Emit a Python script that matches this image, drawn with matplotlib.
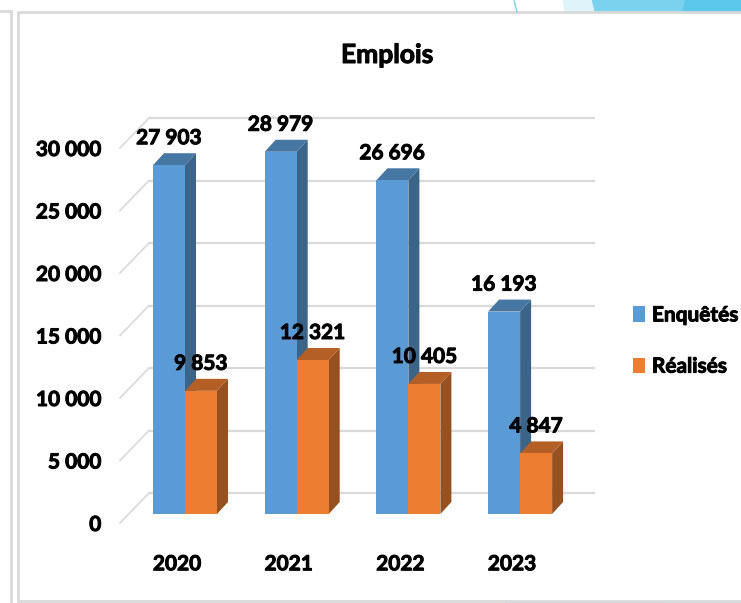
import matplotlib
matplotlib.use("Agg")
import matplotlib.pyplot as plt
import matplotlib.patheffects as pe
from matplotlib.patches import Polygon, Rectangle
from matplotlib.transforms import Affine2D
import numpy as np

W, H = 741, 603

years = ["2020", "2021", "2022", "2023"]
enquetes = [27903, 28979, 26696, 16193]
realises = [9853, 12321, 10405, 4847]
enquetes_labels = ["27 903", "28 979", "26 696", "16 193"]
realises_labels = ["9 853", "12 321", "10 405", "4 847"]
y_ticks = [0, 5000, 10000, 15000, 20000, 25000, 30000]
y_labels = ["0", "5 000", "10 000", "15 000", "20 000", "25 000", "30 000"]

plt.rcParams["font.family"] = ["Lato", "DejaVu Sans"]
plt.rcParams["font.weight"] = "bold"

BLUE, BLUE_TOP, BLUE_SIDE = "#5b9bd5", "#4676a2", "#3b6488"
ORANGE, ORANGE_TOP, ORANGE_SIDE = "#ed7d31", "#b45f25", "#97501f"
GRID = "#d9d9d9"
FS = 15
# thickens the glyphs, the reference text is very heavy
HEAVY = [pe.withStroke(linewidth=0.7, foreground="black")]

fig = plt.figure(figsize=(W / 100, H / 100), dpi=100)

# page background, pixel coordinates
bg = fig.add_axes([0, 0, 1, 1])
bg.set_xlim(0, W)
bg.set_ylim(H, 0)
bg.axis("off")
bg.add_patch(Polygon([[563, 0], [741, 0], [741, 12], [565, 12]], color="#dff3fa"))
bg.add_patch(Polygon([[592, 0], [741, 0], [741, 12], [595, 12]], color="#7ad2ef"))
bg.add_patch(Polygon([[685, 0], [741, 0], [741, 12], [682, 12]], color="#5cc8ec"))
bg.plot([514, 517], [0, 12], color="#7ad2ef", lw=1)
bg.add_patch(Rectangle((505, 600), 236, 3, color="#bfe8f6", lw=0))
bg.add_patch(Rectangle((664, 600), 77, 3, color="#7ad2ef", lw=0))
bg.add_patch(Rectangle((18, 12), 740, 589, facecolor="white", edgecolor=GRID, lw=2))
bg.plot([0, 11, 11], [11, 11, 603], color=GRID, lw=2)

# axes plane goes through the front of the bars
left, right, base, top = 129, 575, 514, 139
ax = fig.add_axes([left / W, 1 - base / H, (right - left) / W, (base - top) / H])
ax.set_ylim(0, 30000)
ax.set_xlim((left - 185) / 111.7, (right - 185) / 111.7)
ax.patch.set_alpha(0)
for s in ax.spines.values():
    s.set_visible(False)

x = np.arange(len(years))
w = 0.2865
DX, DY = 11, 12

back = ax.transData + Affine2D().translate(20, 21)
ax.hlines(y_ticks, ax.get_xlim()[0], ax.get_xlim()[1], color=GRID, lw=1.6,
          transform=back, zorder=1, clip_on=False)
for v in y_ticks:
    x0 = ax.get_xlim()[0]
    p0 = ax.transData.transform((x0, v)) + (20, 21)
    p1 = ax.transData.transform((x0, v)) + (-9, -9)
    ax.plot([p0[0], p1[0]], [p0[1], p1[1]], color=GRID, lw=1.2,
            transform=None, zorder=1, clip_on=False)


def bars3d(xs, vals, color, top_c, side_c, z):
    for xi, v in zip(xs, vals):
        a = ax.transData.transform((xi, 0))
        b = ax.transData.transform((xi + w, v))
        side = [(b[0], a[1]), (b[0], b[1]), (b[0] + DX, b[1] + DY), (b[0] + DX, a[1] + DY)]
        roof = [(a[0], b[1]), (b[0], b[1]), (b[0] + DX, b[1] + DY), (a[0] + DX, b[1] + DY)]
        ax.add_patch(Polygon(side, color=side_c, transform=None, zorder=z, lw=0, clip_on=False))
        ax.add_patch(Polygon(roof, color=top_c, transform=None, zorder=z, lw=0, clip_on=False))
    return ax.bar(xs, vals, w, align="edge", color=color, zorder=z + 0.1)


h1 = bars3d(x - w, enquetes, BLUE, BLUE_TOP, BLUE_SIDE, 2)
h2 = bars3d(x, realises, ORANGE, ORANGE_TOP, ORANGE_SIDE, 3)

for xi, v, s in zip(x - w / 2, enquetes, enquetes_labels):
    ax.annotate(s, (xi, v), xytext=(0, 27), textcoords="offset pixels", ha="center",
                va="center", fontsize=FS, zorder=5, annotation_clip=False, path_effects=HEAVY)
for xi, v, s in zip(x + w / 2, realises, realises_labels):
    ax.annotate(s, (xi, v), xytext=(0, 27), textcoords="offset pixels", ha="center",
                va="center", fontsize=FS, zorder=5, annotation_clip=False, path_effects=HEAVY)

ax.set_xticks(x, years, fontsize=FS)
ax.set_yticks(y_ticks, y_labels, fontsize=FS)
ax.tick_params(axis="both", length=0)
ax.tick_params(axis="x", pad=29)
ax.tick_params(axis="y", pad=20)
for lab in ax.get_xticklabels():
    lab.set_transform(lab.get_transform() + Affine2D().translate(-8, 0))
    lab.set_path_effects(HEAVY)
for lab in ax.get_yticklabels():
    lab.set_transform(lab.get_transform() + Affine2D().translate(0, -9))
    lab.set_path_effects(HEAVY)

fig.text(387 / W, 1 - 55 / H, "Emplois", ha="center", va="center", fontsize=19, path_effects=HEAVY)

leg = fig.legend([h1, h2], ["Enquêtés", "Réalisés"], loc="center left",
                 bbox_to_anchor=(633 / W, 1 - 341 / H), frameon=False, fontsize=FS,
                 handlelength=0.58, handleheight=0.75, handletextpad=0.33, labelspacing=1.5,
                 borderpad=0, borderaxespad=0)
for t in leg.get_texts():
    t.set_path_effects(HEAVY)

fig.savefig("out.png", dpi=100)
